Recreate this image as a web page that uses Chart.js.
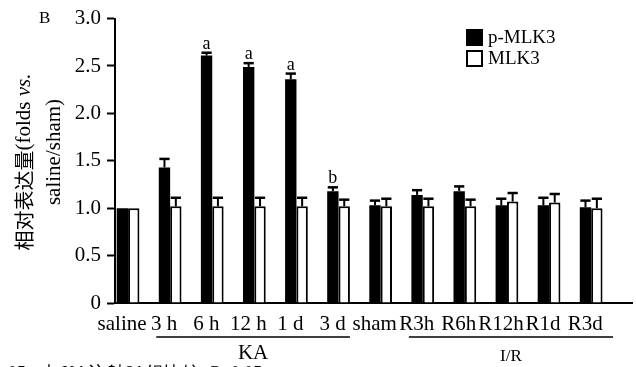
<!DOCTYPE html>
<html lang="zh">
<head>
    <meta charset="UTF-8">
    <title>MLK3</title>
    <script src="https://cdn.jsdelivr.net/npm/chart.js"></script>
    <style>
        body { margin: 0; background: #fff; }
        .wrap { width: 636px; height: 367px; position: relative; }
    </style>
</head>
<body>
    <div class="wrap">
        <canvas id="mlkChart" width="636" height="367"></canvas>
    </div>
    <script>
        // values
        const categories = ['saline', '3 h', '6 h', '12 h', '1 d', '3 d', 'sham', 'R3h', 'R6h', 'R12h', 'R1d', 'R3d'];
        const pMLK3 = [1.00, 1.43, 2.61, 2.49, 2.36, 1.18, 1.03, 1.14, 1.18, 1.03, 1.03, 1.01];
        const pMLK3Err = [0, 0.09, 0.03, 0.04, 0.06, 0.04, 0.05, 0.05, 0.05, 0.07, 0.08, 0.07];
        const MLK3 = [1.00, 1.02, 1.02, 1.02, 1.02, 1.02, 1.02, 1.02, 1.02, 1.07, 1.06, 1.00];
        const MLK3Err = [0, 0.09, 0.09, 0.09, 0.09, 0.07, 0.08, 0.08, 0.07, 0.09, 0.09, 0.10];
        const sigMarks = ['', '', 'a', 'a', 'a', 'b', '', '', '', '', '', ''];
        const yTicks = [0, 0.5, 1.0, 1.5, 2.0, 2.5, 3.0];
        const groupNames = ['KA', 'I/R'];
        const groupFrom = [1, 7];
        const groupTo = [5, 11];

        const SERIF = '"Liberation Serif", "Times New Roman", serif';

        // error bars (upward only) + significance letters
        const errorBars = {
            id: 'errorBars',
            afterDatasetsDraw(chart) {
                const ctx = chart.ctx;
                const y = chart.scales.y;
                chart.data.datasets.forEach((ds, i) => {
                    const meta = chart.getDatasetMeta(i);
                    meta.data.forEach((bar, j) => {
                        const err = ds.errors[j];
                        if (!err) return;
                        const v = ds.data[j].y;
                        const top = y.getPixelForValue(v + err);
                        const w = bar.width * 0.9;
                        ctx.save();
                        ctx.strokeStyle = '#000';
                        ctx.lineWidth = 2;
                        ctx.beginPath();
                        ctx.moveTo(bar.x, y.getPixelForValue(v));
                        ctx.lineTo(bar.x, top);
                        ctx.stroke();
                        ctx.lineWidth = 2.5;
                        ctx.beginPath();
                        ctx.moveTo(bar.x - w / 2, top);
                        ctx.lineTo(bar.x + w / 2, top);
                        ctx.stroke();
                        ctx.restore();
                    });
                });
                // letters above the p-MLK3 bars
                const meta0 = chart.getDatasetMeta(0);
                ctx.save();
                ctx.fillStyle = '#000';
                ctx.font = '18px ' + SERIF;
                ctx.textAlign = 'center';
                ctx.textBaseline = 'alphabetic';
                sigMarks.forEach((m, j) => {
                    if (!m) return;
                    const top = y.getPixelForValue(pMLK3[j] + pMLK3Err[j]);
                    ctx.fillText(m, meta0.data[j].x, top - 4);
                });
                ctx.restore();
            }
        };

        // legend, axis title, group brackets and the rest of the text
        const extras = {
            id: 'extras',
            afterDraw(chart) {
                const ctx = chart.ctx;
                const x = chart.scales.x;
                ctx.save();
                ctx.fillStyle = '#000';
                ctx.strokeStyle = '#000';

                // panel letter
                ctx.font = '17px ' + SERIF;
                ctx.textBaseline = 'alphabetic';
                ctx.fillText('B', 39, 23);

                // legend
                chart.data.datasets.forEach((ds, i) => {
                    const top = 29 + i * 21;
                    ctx.fillStyle = ds.backgroundColor;
                    ctx.fillRect(467, top + 1, 15, 15);
                    ctx.lineWidth = 2;
                    ctx.strokeRect(467, top + 1, 15, 15);
                    ctx.fillStyle = '#000';
                    ctx.font = '19px ' + SERIF;
                    ctx.textBaseline = 'middle';
                    ctx.fillText(ds.label, 488, top + 9);
                });

                // y axis title (two rotated lines)
                const drawRot = (parts, cx, cy) => {
                    let total = 0;
                    parts.forEach(p => { ctx.font = p.font; p.w = ctx.measureText(p.text).width; total += p.w; });
                    ctx.save();
                    ctx.translate(cx, cy);
                    ctx.rotate(-Math.PI / 2);
                    ctx.textBaseline = 'middle';
                    let px = -total / 2;
                    parts.forEach(p => { ctx.font = p.font; ctx.fillText(p.text, px, 0); px += p.w; });
                    ctx.restore();
                };
                drawRot([
                    { text: '相对表达量', font: '20px "Noto Sans CJK SC"' },
                    { text: '(folds ', font: '21px ' + SERIF },
                    { text: 'vs.', font: 'italic 21px ' + SERIF }
                ], 24, 162);
                drawRot([{ text: 'saline/sham)', font: '21px ' + SERIF }], 54, 152);

                // group brackets under the axis
                groupNames.forEach((g, k) => {
                    const x0 = x.getPixelForValue(groupFrom[k] - 0.33);
                    const x1 = x.getPixelForValue(groupTo[k] + (k === 0 ? 0.27 : 0.52));
                    ctx.lineWidth = 1.5;
                    ctx.beginPath();
                    ctx.moveTo(x0, 337);
                    ctx.lineTo(x1, 337);
                    ctx.stroke();
                    ctx.font = (k === 0 ? '21px ' : '17px ') + SERIF;
                    ctx.textAlign = 'center';
                    ctx.textBaseline = 'middle';
                    ctx.fillText(g, (x0 + x1) / 2, k === 0 ? 353 : 357);
                });

                // caption line, cut by the bottom edge
                ctx.textAlign = 'left';
                ctx.textBaseline = 'top';
                ctx.font = '18px ' + SERIF;
                ctx.fillText('05，与KA注射6 h组比较 ᵇP<0.05', 8, 365);
                ctx.restore();
            }
        };

        const ctx = document.getElementById('mlkChart').getContext('2d');
        new Chart(ctx, {
            type: 'bar',
            data: {
                datasets: [{
                    label: 'p-MLK3',
                    data: categories.map((c, i) => ({ x: i, y: pMLK3[i] })),
                    errors: pMLK3Err,
                    backgroundColor: '#000',
                    borderColor: '#000',
                    borderWidth: 0,
                    categoryPercentage: 0.54,
                    barPercentage: 1.0
                }, {
                    label: 'MLK3',
                    data: categories.map((c, i) => ({ x: i, y: MLK3[i] })),
                    errors: MLK3Err,
                    backgroundColor: '#fff',
                    borderColor: '#000',
                    borderWidth: 2,
                    categoryPercentage: 0.54,
                    barPercentage: 1.0
                }]
            },
            options: {
                responsive: false,
                animation: false,
                layout: { padding: { top: 15, right: 4, bottom: 0, left: 0 } },
                plugins: {
                    legend: { display: false },
                    tooltip: { enabled: false }
                },
                scales: {
                    x: {
                        type: 'linear',
                        offset: false,
                        min: -0.31,
                        max: 11.97,
                        afterBuildTicks: s => { s.ticks = categories.map((c, i) => ({ value: i })); },
                        afterFit: s => { s.height = 64; },
                        grid: { offset: false, drawOnChartArea: false, drawTicks: false },
                        border: { display: true, color: '#000', width: 2 },
                        ticks: {
                            autoSkip: false,
                            maxRotation: 0,
                            padding: 9,
                            labelOffset: -6,
                            color: '#000',
                            font: { family: SERIF, size: 21 },
                            callback: v => categories[v]
                        }
                    },
                    y: {
                        min: 0,
                        max: 3,
                        afterBuildTicks: s => { s.ticks = yTicks.map(v => ({ value: v })); },
                        afterFit: s => { s.width = 115; },
                        grid: { drawOnChartArea: false, drawTicks: true, tickLength: 8, tickColor: '#000', tickWidth: 2 },
                        border: { display: true, color: '#000', width: 2 },
                        ticks: {
                            padding: 6,
                            color: '#000',
                            font: { family: SERIF, size: 21 },
                            callback: v => v === 0 ? '0' : v.toFixed(1)
                        }
                    }
                }
            },
            plugins: [errorBars, extras]
        });
    </script>
</body>
</html>
